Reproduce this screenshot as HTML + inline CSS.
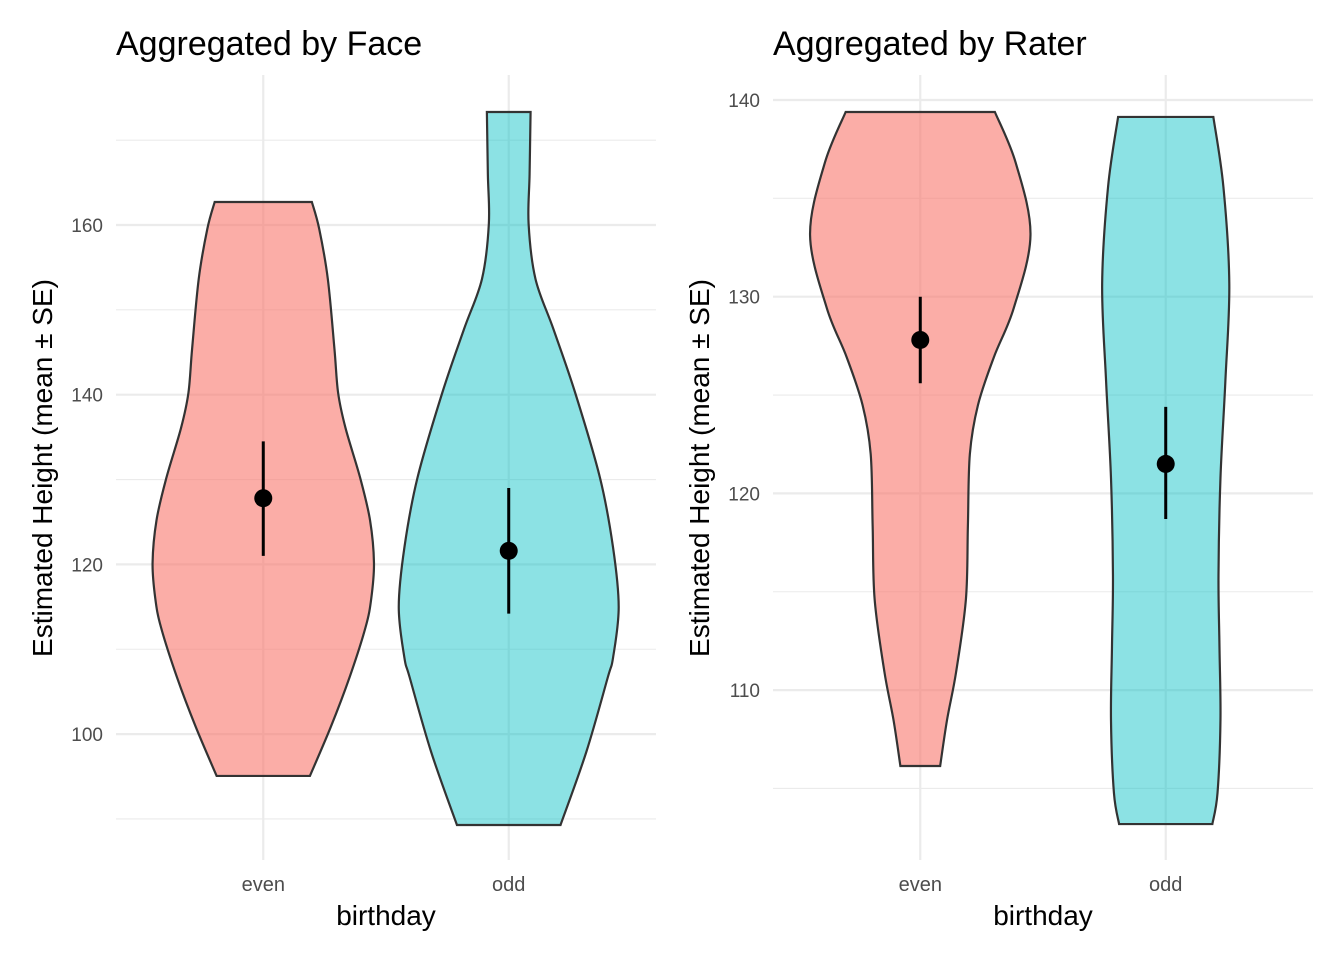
<!DOCTYPE html>
<html><head><meta charset="utf-8"><style>
body{margin:0;background:#fff}
svg{display:block}
text{font-family:"Liberation Sans",Arial,sans-serif}
</style></head><body>
<svg id="chart" width="1344" height="960"></svg>
<script>
const categories=["even","odd"];
const leftEvenVals=[162.71,159.53,153.64,145.39,140.20,136.08,130.18,125.2,120.17,116.0,112.62,106.73,100.84,95.07];
const leftEvenDens=[.198,.228,.263,.290,.305,.335,.395,.435,.451,.440,.417,.352,.275,.190];
const leftOddVals=[173.32,166.0,160.12,153.64,147.74,140.20,130.18,122.0,114.98,109.0,106.73,97.89,89.29];
const leftOddDens=[.089,.085,.081,.109,.182,.271,.372,.425,.448,.425,.404,.316,.211];
const rightEvenVals=[139.39,136.80,133.14,129.43,126.93,124.49,122.00,118.34,114.63,110.92,108.48,106.14];
const rightEvenDens=[.304,.389,.449,.381,.300,.235,.202,.194,.186,.146,.109,.081];
const rightOddVals=[139.14,135.58,130.65,125.71,120.78,115.85,112.19,108.48,104.77,103.19];
const rightOddDens=[.194,.235,.259,.243,.223,.215,.219,.223,.211,.190];
const leftMeans=[127.8,121.6];
const leftLo=[121.0,114.2];
const leftHi=[134.5,129.0];
const rightMeans=[127.8,121.5];
const rightLo=[125.6,118.7];
const rightHi=[130.0,124.4];
const leftMajor=[100,120,140,160];
const leftMinor=[90,110,130,150,170];
const rightMajor=[110,120,130,140];
const rightMinor=[105,115,125,135];
const NS="http://www.w3.org/2000/svg";
const svg=document.getElementById('chart');
function mk(tag,attrs,parent){const e=document.createElementNS(NS,tag);for(const k in attrs)e.setAttribute(k,attrs[k]);(parent||svg).appendChild(e);return e;}
function smooth(pts){let d="M"+pts[0][0]+","+pts[0][1];for(let i=0;i<pts.length-1;i++){const p0=pts[Math.max(0,i-1)],p1=pts[i],p2=pts[i+1],p3=pts[Math.min(pts.length-1,i+2)];d+=" C"+(p1[0]+(p2[0]-p0[0])/6)+","+(p1[1]+(p2[1]-p0[1])/6)+" "+(p2[0]-(p3[0]-p1[0])/6)+","+(p2[1]-(p3[1]-p1[1])/6)+" "+p2[0]+","+p2[1];}return d;}
function panel(cfg){
  const g=mk('g',{});
  
  
  const x=c=>cfg.x0+(c-0.4)*(cfg.x1-cfg.x0)/2.2;
  const y=v=>cfg.yRef+(cfg.vRef-v)*cfg.ppu;
  const unit=(cfg.x1-cfg.x0)/2.2;
  cfg.minor.forEach(v=>{const l=mk('line',{x1:cfg.x0,x2:cfg.x1,y1:y(v),y2:y(v),stroke:'#ebebeb','stroke-width':1.1},g);
    
    });
  cfg.major.forEach(v=>{const l=mk('line',{x1:cfg.x0,x2:cfg.x1,y1:y(v),y2:y(v),stroke:'#ebebeb','stroke-width':2.2},g);
    
    
    const t=mk('text',{x:cfg.x0-13,y:y(v)+7,'text-anchor':'end','font-size':19,fill:'#4d4d4d'},g);t.textContent=v;
    
    });
  categories.forEach((c,i)=>{const l=mk('line',{x1:x(i+1),x2:x(i+1),y1:75,y2:860,stroke:'#ebebeb','stroke-width':2.2},g);
    
    
    const t=mk('text',{x:x(i+1),y:891,'text-anchor':'middle','font-size':20,fill:'#4d4d4d'},g);t.textContent=c;
    
    });
  const fills=['rgba(248,118,109,0.6)','rgba(0,191,196,0.45)'];
  cfg.violins.forEach((vd,i)=>{const cx=x(i+1);
    const right=vd.vals.map((v,k)=>[cx+vd.dens[k]*unit,y(v)]);
    const left=vd.vals.map((v,k)=>[cx-vd.dens[k]*unit,y(v)]).reverse();
    let d=smooth(right);const ld=smooth(left);d+=" L"+ld.slice(1)+" Z";
    const p=mk('path',{d:d,fill:fills[i],stroke:'#333','stroke-width':2.2},g);
    
    });
  categories.forEach((c,i)=>{const cx=x(i+1);
    const l=mk('line',{x1:cx,x2:cx,y1:y(cfg.lo[i]),y2:y(cfg.hi[i]),stroke:'#000','stroke-width':3},g);
    
    
    const pt=mk('circle',{cx:cx,cy:y(cfg.means[i]),r:9,fill:'#000'},g);
    
    });
  const t=mk('text',{x:cfg.x0,y:55,'font-size':34,fill:'#000'},g);t.textContent=cfg.title;
  
  
  const xt=mk('text',{x:(cfg.x0+cfg.x1)/2,y:925,'text-anchor':'middle','font-size':28,fill:'#000'},g);xt.textContent='birthday';
  
  
  const yt=mk('text',{x:0,y:0,'text-anchor':'middle','font-size':28,fill:'#000',transform:'translate('+(cfg.x0-64)+',468) rotate(-90)'},g);yt.textContent='Estimated Height (mean ± SE)';
  
  
}
panel({name:'panel-by-face',title:'Aggregated by Face',x0:116,x1:656,yRef:225,vRef:160,ppu:8.485,major:leftMajor,minor:leftMinor,
  violins:[{vals:leftEvenVals,dens:leftEvenDens},{vals:leftOddVals,dens:leftOddDens}],means:leftMeans,lo:leftLo,hi:leftHi});
panel({name:'panel-by-rater',title:'Aggregated by Rater',x0:773,x1:1313,yRef:100,vRef:140,ppu:19.67,major:rightMajor,minor:rightMinor,
  violins:[{vals:rightEvenVals,dens:rightEvenDens},{vals:rightOddVals,dens:rightOddDens}],means:rightMeans,lo:rightLo,hi:rightHi});
</script>
</body></html>
